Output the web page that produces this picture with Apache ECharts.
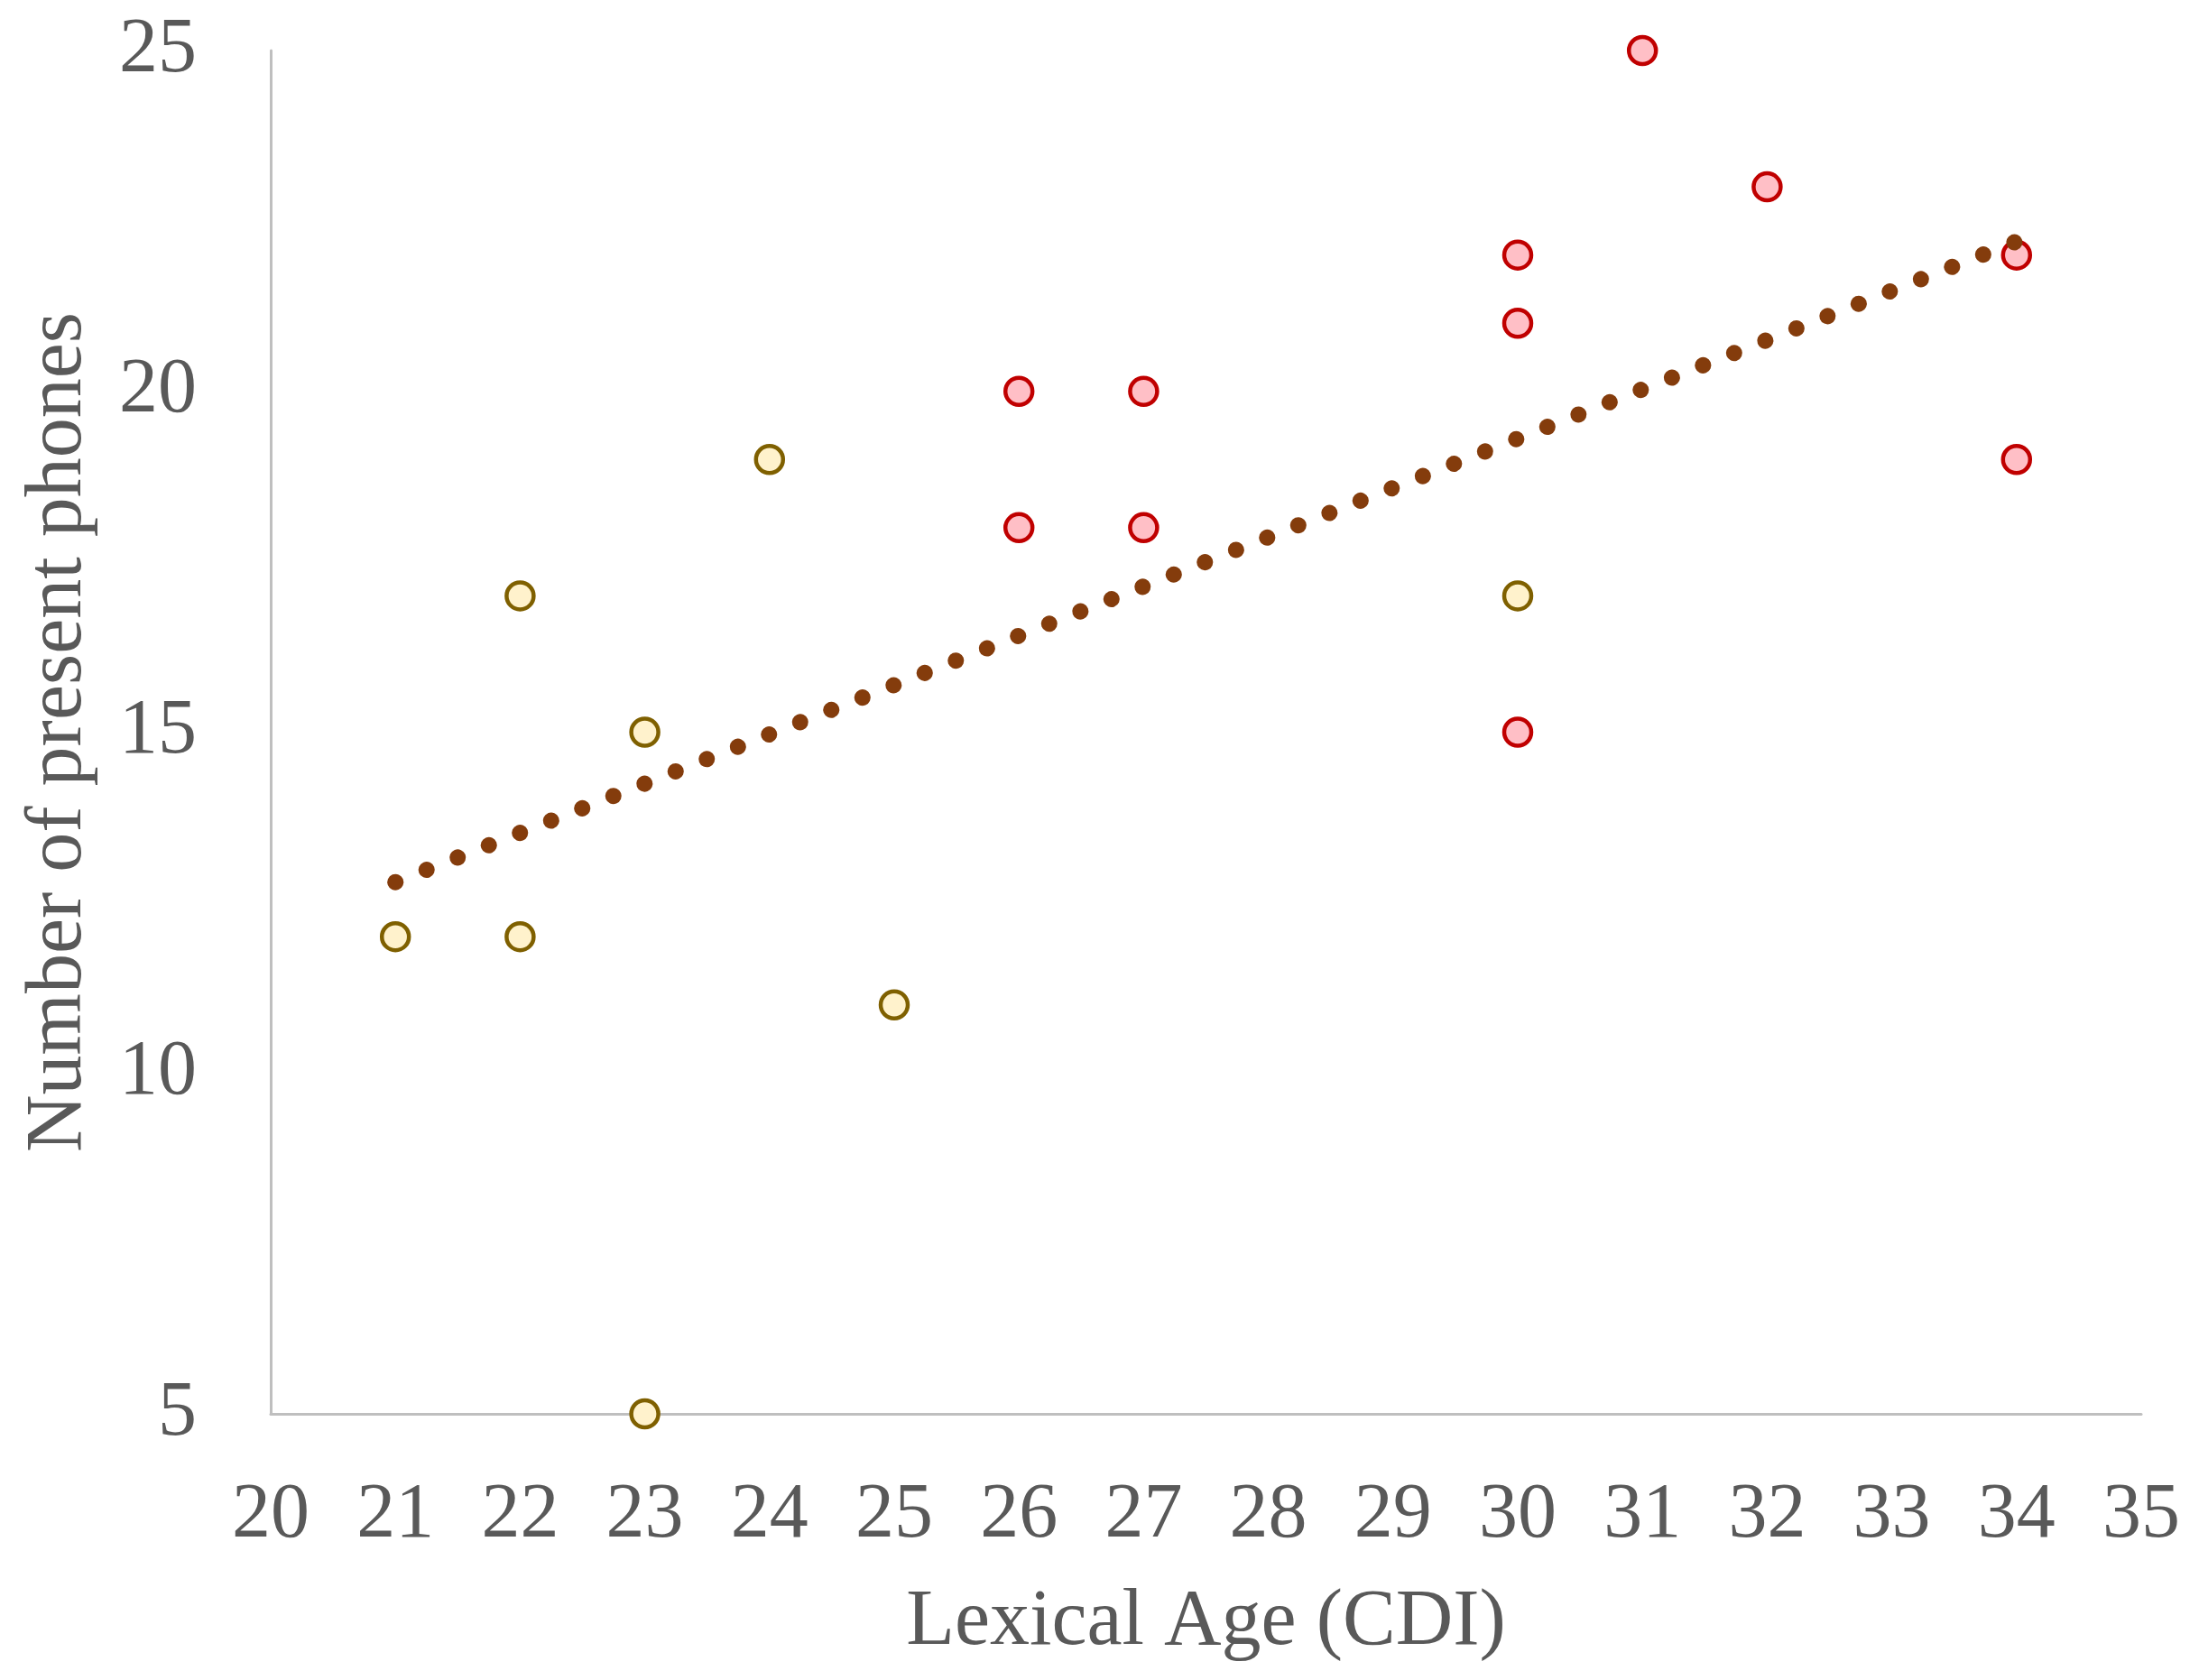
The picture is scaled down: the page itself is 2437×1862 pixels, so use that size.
<!DOCTYPE html>
<html>
<head>
<meta charset="utf-8">
<script src="https://cdn.jsdelivr.net/npm/echarts@6/dist/echarts.min.js"></script>
<style>
  html, body { margin: 0; padding: 0; background: #fff; }
  #chart { width: 2437px; height: 1862px; }
</style>
</head>
<body>
<div id="chart"></div>
<script>
// lexical age vs number of present phones, two groups
const yellowX = [21, 22, 22, 23, 23, 24, 25, 30];
const yellowY = [12, 17, 12, 15, 5, 19, 11, 17];
const redX = [26, 26, 27, 27, 30, 30, 30, 31, 32, 34, 34];
const redY = [20, 18, 20, 18, 22, 21, 15, 25, 23, 22, 19];
// trendline ends
const trendX = [21, 34];
const trendY = [12.8, 22.2];

const pairs = (xs, ys) => xs.map((x, i) => [x, ys[i]]);

const FONT = '"Liberation Serif", "Times New Roman", serif';
const TEXT = '#595959';

const chart = echarts.init(document.getElementById('chart'));
chart.setOption({
    backgroundColor: '#fff',
    animation: false,
    grid: { left: 300, right: 64, top: 56, bottom: 295, containLabel: false },
    xAxis: {
        type: 'value',
        min: 20, max: 35, interval: 1,
        name: 'Lexical Age (CDI)',
        nameLocation: 'middle',
        nameGap: 188,
        nameTextStyle: { fontFamily: FONT, fontSize: 88, color: TEXT },
        axisLine: { show: true, lineStyle: { color: '#BFBFBF', width: 3 } },
        axisTick: { show: false },
        splitLine: { show: false },
        axisLabel: { fontFamily: FONT, fontSize: 86, color: TEXT, margin: 70 }
    },
    yAxis: {
        type: 'value',
        min: 5, max: 25, interval: 5,
        name: 'Number of present phones',
        nameLocation: 'middle',
        nameGap: 190,
        nameTextStyle: { fontFamily: FONT, fontSize: 88, color: TEXT },
        axisLine: { show: true, lineStyle: { color: '#BFBFBF', width: 3 } },
        axisTick: { show: false },
        splitLine: { show: false },
        axisLabel: { fontFamily: FONT, fontSize: 86, color: TEXT, margin: 82 }
    },
    series: [
        {
            type: 'scatter',
            data: pairs(yellowX, yellowY),
            symbol: 'circle',
            symbolSize: 30,
            itemStyle: { color: '#FFF2CC', borderColor: '#7F6000', borderWidth: 4.5, opacity: 1 },
            z: 2
        },
        {
            type: 'scatter',
            data: pairs(redX, redY),
            symbol: 'circle',
            symbolSize: 30,
            itemStyle: { color: '#FFBFC6', borderColor: '#C00000', borderWidth: 4.5, opacity: 1 },
            z: 2
        },
        {
            type: 'line',
            data: pairs(trendX, trendY),
            showSymbol: false,
            silent: true,
            lineStyle: { color: '#843C0C', width: 18, type: [0.1, 37], cap: 'round' },
            z: 3
        }
    ]
});
</script>
</body>
</html>
